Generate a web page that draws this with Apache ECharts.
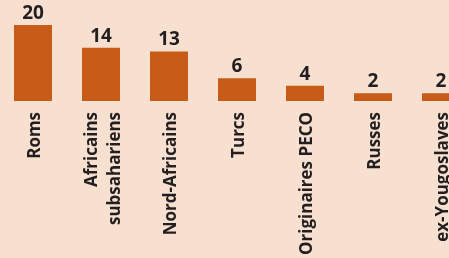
<!DOCTYPE html>
<html>
<head>
<meta charset="utf-8">
<script src="https://cdn.jsdelivr.net/npm/echarts@6/dist/echarts.min.js"></script>
<style>
    html, body { margin: 0; padding: 0; background: #f7e0cf; overflow: hidden; }
    /* la dernière barre est coupée par le bord droit de l'image */
    #main { width: 477px; height: 258px; margin-left: -1px; }
</style>
</head>
<body>
<div id="main"></div>
<script>
// catégories et valeurs
const categories = ['Roms', 'Africains\nsubsahariens', 'Nord-Africains', 'Turcs', 'Originaires PECO', 'Russes', 'ex-Yougoslaves'];
const values = [20, 14, 13, 6, 4, 2, 2];

const chart = echarts.init(document.getElementById('main'));

const option = {
    backgroundColor: '#f7e0cf',
    textStyle: { fontFamily: 'Open Sans' },
    grid: { left: 0, right: 1, top: 25, bottom: 157 },
    xAxis: {
        type: 'category',
        data: categories,
        axisLine: { show: false },
        axisTick: { show: false },
        axisLabel: {
            interval: 0,
            rotate: 90,
            margin: 11,
            fontSize: 17,
            fontWeight: 'bold',
            lineHeight: 23,
            color: '#231f20',
            // petit décalage vers la droite du texte tourné
            formatter: (v) => v.split('\n').map(s => '{t|' + s + '}').join('\n'),
            rich: {
                t: {
                    fontSize: 17,
                    fontWeight: 'bold',
                    lineHeight: 23,
                    color: '#231f20',
                    padding: [5, 0, 0, 0]
                }
            }
        }
    },
    yAxis: {
        type: 'value',
        min: 0,
        max: 20,
        show: false,
        splitLine: { show: false }
    },
    series: [{
        type: 'bar',
        data: values,
        barWidth: 38,
        itemStyle: { color: '#c95b18' },
        label: {
            show: true,
            position: 'top',
            distance: 2,
            fontSize: 19,
            fontWeight: 'bold',
            color: '#231f20'
        }
    }]
};
chart.setOption(option);
</script>
</body>
</html>
